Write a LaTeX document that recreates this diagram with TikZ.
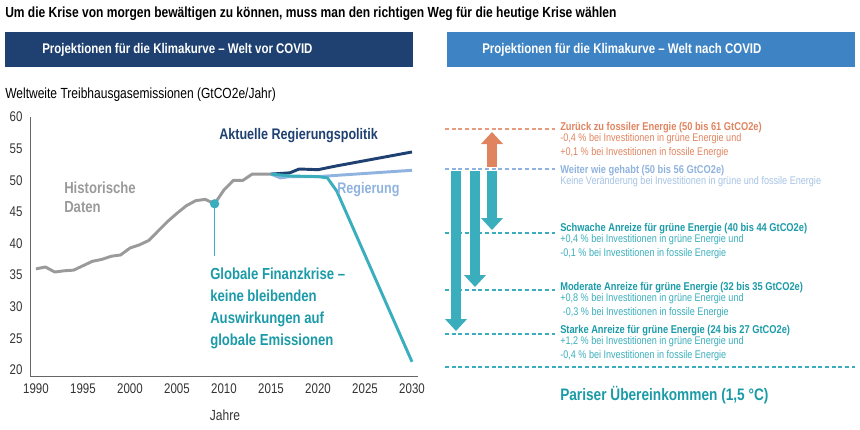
\documentclass[tikz,border=0pt]{standalone}
\usepackage{fontspec}
\setmainfont{Liberation Sans}[FakeStretch=0.82]
\usetikzlibrary{arrows.meta}
\definecolor{dblue}{HTML}{1F4171}
\definecolor{hblue}{HTML}{3E84C4}
\definecolor{lblue}{HTML}{8FB3DE}
\definecolor{tl}{HTML}{3AAEBC}
\definecolor{tealt}{HTML}{1B9BA8}
\definecolor{orng}{HTML}{E0845F}
\definecolor{gry}{HTML}{9A9A9A}
\tikzset{
 hdr/.style={anchor=west,inner sep=0,font=\bfseries\fontsize{10.5}{12}\selectfont,text=white},
 tick/.style={font=\fontsize{10.5}{12}\selectfont,text=black!80,inner sep=1pt},
 dl/.style={dash pattern=on 3pt off 2pt,line width=0.9pt},
 ttl/.style={anchor=west,inner sep=0,font=\bfseries\fontsize{8.5}{10}\selectfont},
 sub/.style={anchor=north west,inner sep=0,align=left,font=\fontsize{8.3}{10}\selectfont},
 fat/.style={line width=7.5pt,-{Triangle[length=9pt,width=16pt]},draw=tl},
}
\begin{document}
\begin{tikzpicture}[x=0.75pt,y=-0.75pt]
\useasboundingbox (0,0) rectangle (860,429);
\node[anchor=west,inner sep=0,font=\bfseries\fontsize{11}{13}\selectfont] (title) at (5,14) {Um die Krise von morgen bewältigen zu können, muss man den richtigen Weg für die heutige Krise wählen};
\fill[dblue] (5,32) rectangle (413,67);
\node[hdr] (h1) at (42,50) {Projektionen für die Klimakurve – Welt vor COVID};
\fill[hblue] (447,32) rectangle (855,67);
\node[hdr] (h2) at (482,50) {Projektionen für die Klimakurve – Welt nach COVID};
\node[anchor=west,inner sep=0,font=\fontsize{11}{13}\selectfont] (yl) at (5,95) {Weltweite Treibhausgasemissionen (GtCO2e/Jahr)};
% axes
\draw[black!60,line width=0.6pt] (30,117) -- (30,376) -- (418,376);
\foreach \v/\n in {60/60,55/55,50/50,45/45,40/40,35/35,30/30,25/25,20/20}
  \node[tick,anchor=east] (y\n) at (24,{370-(\v-20)*6.325}) {\v};
\foreach \yr in {1990,1995,2000,2005,2010,2015,2020,2025,2030}
  \node[tick,anchor=north] (x\yr) at ({36+(\yr-1990)*9.4},382) {\yr};
\node[tick,anchor=north,font=\fontsize{11}{13}\selectfont] (xl) at (225,408) {Jahre};
\begin{scope}[shift={(36,370)},x=7.05pt,y=4.74pt,line join=round]
\draw[gry,line width=2.2pt] (0,16)--(1,16.3)--(2,15.5)--(3,15.7)--(4,15.8)--(5,16.5)--(6,17.2)--(7,17.5)--(8,18)--(9,18.2)--(10,19.3)--(11,19.8)--(12,20.5)--(13,22)--(14,23.5)--(15,24.8)--(16,26)--(17,26.8)--(18,27)--(19,26.3)--(20,28.5)--(21,30)--(22,30)--(23,31)--(24,31)--(25,31);
\draw[dblue,line width=2.2pt] (25,31)--(27,31.2)--(28,31.8)--(30,31.7)--(32,32.3)--(36,33.4)--(40,34.5);
\draw[lblue,line width=2.2pt] (25,31)--(26,30.4)--(27,30.6)--(30,30.6)--(32,30.8)--(35,31.1)--(40,31.6);
\draw[tl,line width=2.2pt] (25,31)--(27,30.7)--(30,30.6)--(31,30.4)--(32,28.3)--(40,1.3);
\coordinate (gfc) at (19,26.3);
\end{scope}
\fill[tl] (gfc) circle (3.5pt);
\draw[tl,line width=0.8pt] (gfc) -- ++(0,52);
\node[anchor=west,inner sep=0,font=\bfseries\fontsize{12}{14}\selectfont,text=gry,align=left] (hist) at (64,197) {Historische\\Daten};
\node[anchor=west,inner sep=0,font=\bfseries\fontsize{11.5}{13}\selectfont,text=dblue] (akt) at (219,136) {Aktuelle Regierungspolitik};
\node[anchor=west,inner sep=0,font=\bfseries\fontsize{11.5}{13}\selectfont,text=lblue] (reg) at (337,190) {Regierung};
\node[anchor=north west,inner sep=0,font=\bfseries\fontsize{12}{16.5}\selectfont,text=tealt,align=left] (gfk) at (210,268) {Globale Finanzkrise –\\keine bleibenden\\Auswirkungen auf\\globale Emissionen};
% right panel
\draw[dl,draw=orng!80] (445,129) -- (555,129);
\draw[dl,draw=lblue] (445,169) -- (555,169);
\draw[dl,draw=tl] (445,233) -- (555,233);
\draw[dl,draw=tl] (445,290) -- (555,290);
\draw[dl,draw=tl] (445,334) -- (555,334);
\draw[dl,draw=tl] (445,367) -- (855,367);
\coordinate (a1s) at (456,171); \coordinate (a1e) at (456,331);
\coordinate (a2s) at (475,171); \coordinate (a2e) at (475,287);
\coordinate (a3s) at (492,171); \coordinate (a3e) at (492,230);
\coordinate (a4s) at (492,167); \coordinate (a4e) at (492,132);
\draw[fat] (a1s) -- (a1e);
\draw[fat] (a2s) -- (a2e);
\draw[fat] (a3s) -- (a3e);
\draw[fat,draw=orng] (a4s) -- (a4e);
\node[ttl,text=orng] (t1) at (560,128) {Zurück zu fossiler Energie (50 bis 61 GtCO2e)};
\node[sub,text=orng] (s1) at (t1.south west) {-0,4 \% bei Investitionen in grüne Energie und\\+0,1 \% bei Investitionen in fossile Energie};
\node[ttl,text=lblue] (t2) at (560,171) {Weiter wie gehabt (50 bis 56 GtCO2e)};
\node[sub,text=lblue!80] (s2) at (t2.south west) {Keine Veränderung bei Investitionen in grüne und fossile Energie};
\node[ttl,text=tealt] (t3) at (560,229) {Schwache Anreize für grüne Energie (40 bis 44 GtCO2e)};
\node[sub,text=tl] (s3) at (t3.south west) {+0,4 \% bei Investitionen in grüne Energie und\\-0,1 \% bei Investitionen in fossile Energie};
\node[ttl,text=tealt] (t4) at (560,288) {Moderate Anreize für grüne Energie (32 bis 35 GtCO2e)};
\node[sub,text=tl] (s4) at (t4.south west) {+0,8 \% bei Investitionen in grüne Energie und\\\ -0,3 \% bei Investitionen in fossile Energie};
\node[ttl,text=tealt] (t5) at (560,331) {Starke Anreize für grüne Energie (24 bis 27 GtCO2e)};
\node[sub,text=tl] (s5) at (t5.south west) {+1,2 \% bei Investitionen in grüne Energie und\\-0,4 \% bei Investitionen in fossile Energie};
\node[anchor=west,inner sep=0,font=\bfseries\fontsize{12.5}{14}\selectfont,text=tealt] (par) at (560,395) {Pariser Übereinkommen (1,5 °C)};
\end{tikzpicture}
\end{document}
